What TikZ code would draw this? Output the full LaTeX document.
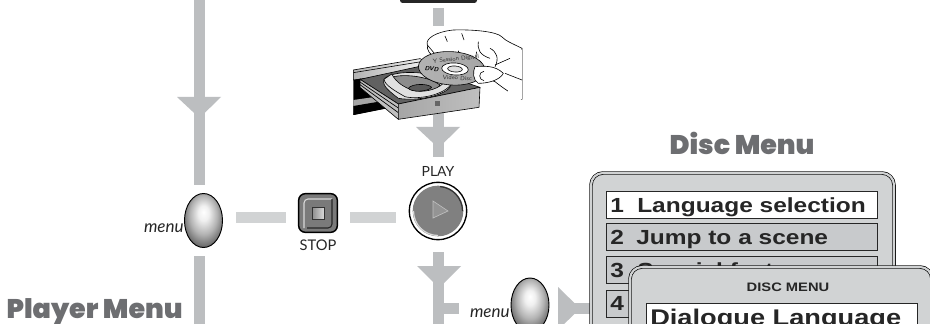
\documentclass[tikz,border=0pt]{standalone}
\usepackage{fontspec}
\usetikzlibrary{shapes.geometric,calc}
\setmainfont{Lato}
\newfontfamily\titlefont[BoldFont=Poppins Black]{Poppins}
\newfontfamily\rowfont[FakeStretch=1.2]{Liberation Sans}
\definecolor{barg}{HTML}{BCBEC0}
\definecolor{hbarg}{HTML}{D1D3D4}
\definecolor{wing}{HTML}{D1D3D4}
\definecolor{rowg}{HTML}{C8CACC}
\definecolor{titleg}{HTML}{6D6E71}
\pgfdeclareradialshading{eggsh}{\pgfpoint{0pt}{8pt}}{color(0pt)=(white);color(7pt)=(black!6);color(18pt)=(black!30);color(30pt)=(black!65);color(50pt)=(black!65)}
\tikzset{
 flow/.style={fill=barg,draw=none},
 hflow/.style={fill=hbarg,draw=none},
 egg/.style={draw=black,line width=.7pt,ellipse,minimum width=28.5pt,minimum height=40.5pt,inner sep=0pt,shading=eggsh},
 lab/.style={inner sep=0pt,text=black!85},
 win/.style={draw=black,line width=.5pt,rounded corners=9pt,double=wing,double distance=1.6pt,fill=wing},
 rowbox/.style={draw=black!85,line width=.7pt,fill=rowg,minimum width=203pt,minimum height=20pt,inner sep=0pt,text=black!85,anchor=north west},
 rowtext/.style={inner sep=0pt,anchor=base west,text=black!85,font=\rowfont\bfseries\fontsize{15.3}{17}\selectfont},
 wintitle/.style={inner sep=0pt,font=\titlefont\bfseries\fontsize{20.2}{22}\selectfont,text=titleg},
 art/.style={draw=black,line width=.45pt,line join=round},
}
\begin{document}
\begin{tikzpicture}[x=.75pt,y=-.75pt]
\useasboundingbox (0,0) rectangle (930,324);
\fill[white] (0,0) rectangle (930,324);
\clip (0,0) rectangle (930,324);
% left vertical
\fill[flow] (194,0) rectangle (205,185);
\fill[flow] (177,97) -- (221,97) -- (199.5,118) -- cycle;
\fill[flow] (194,256) rectangle (205,324);
% horizontals
\fill[hflow] (236,212) rectangle (286,223);
\fill[hflow] (350,212) rectangle (396,223);
% top centre
\fill[black!85,rounded corners=2pt] (400,-8) rectangle (477,3);
\fill[flow] (433,8) rectangle (444,26);
% disc art
\fill[flow] (433,105) rectangle (444,157);
\fill[flow] (416,127) -- (460,127) -- (438.5,148) -- cycle;
\begin{scope}[shift={(340,0)},x=.25pt,y=-.25pt]
 % player body
 \draw[art,left color=black!30,right color=white] (40,210) -- (240,176) -- (300,205) -- (40,240) -- cycle;
 \draw[art] (40,218) -- (250,184);
 \fill[black] (40,240) -- (62,236) -- (170,320) -- (140,325) -- (40,345) -- cycle;
 \fill[black!35] (40,300) -- (110,290) -- (135,322) -- (40,340) -- cycle;
 \fill[black] (40,318) -- (135,302) -- (140,325) -- (40,345) -- cycle;
 % tray
 \draw[art,fill=black!62] (60,238) -- (235,200) -- (420,262) -- (175,312) -- cycle;
 \draw[art,fill=black!12] (132,238) .. controls (150,212) and (270,205) .. (335,250) .. controls (330,285) and (235,305) .. (175,295) .. controls (150,275) and (125,258) .. (132,238) -- cycle;
 \draw[art,fill=black!45] (150,235) .. controls (165,222) and (255,222) .. (300,255) .. controls (290,275) and (235,285) .. (195,280) .. controls (175,265) and (150,250) .. (150,235) -- cycle;
 \draw[art,fill=black!12] (155,222) .. controls (170,250) and (195,262) .. (215,270) .. controls (245,280) and (290,270) .. (310,250) -- (335,250) .. controls (315,285) and (235,300) .. (195,290) .. controls (160,270) and (135,255) .. (132,238) -- cycle;
 \draw[art,fill=black!65] (205,265) .. controls (215,250) and (265,250) .. (275,262) .. controls (265,275) and (215,278) .. (205,265) -- cycle;
 \draw[art,fill=black!25] (60,238) -- (175,312) -- (175,358) -- (60,262) -- cycle;
 \draw[black,line width=.5pt] (60,246) -- (175,324) (60,254) -- (175,338);
 \draw[art,left color=black!35,middle color=white,right color=black!25] (175,312) -- (420,262) -- (417,322) -- (175,358) -- cycle;
 \fill[black!60] (285,302) rectangle (300,318);
 % hand (back)
 \draw[art,fill=white] (300,180) -- (262,135) .. controls (255,115) and (290,95) .. (340,90) .. controls (400,88) and (470,95) .. (485,110) .. controls (495,122) and (520,132) .. (546,145) -- (546,298) .. controls (520,285) and (490,265) .. (465,245) -- (400,220) -- cycle;
 \fill[white] (505,150) rectangle (546,297);
 \draw[art] (262,135) .. controls (260,150) and (270,165) .. (285,170);
 \draw[art] (315,108) -- (322,125) (365,100) -- (372,120) (300,160) -- (305,170) (355,152) -- (357,163) (410,155) -- (407,170);
 \draw[art] (415,125) .. controls (412,150) and (420,165) .. (450,175);
 \draw[art] (450,145) .. controls (470,155) and (478,175) .. (465,200);
 \draw[art] (510,175) -- (465,195);
 \draw[art] (495,220) -- (546,240);
 % disc
 \draw[art,left color=black!30,middle color=white,right color=black!35,rotate around={-4:(335,205)}] (335,205) ellipse (100 and 50);
 \draw[art,fill=white,rotate around={-4:(345,207)}] (345,207) ellipse (40 and 18);
 \draw[art,fill=black!12,rotate around={-4:(345,207)}] (345,207) ellipse (22 and 9);
 \node[inner sep=0pt,font=\sffamily\bfseries\itshape\fontsize{4.5}{5}\selectfont,rotate=-4] (dvdlogo) at (275,207) {DVD};
 \node[inner sep=0pt,font=\sffamily\fontsize{4.6}{5}\selectfont,rotate=6,text=black!80] (disctop) at (348,178) {Y Session Digital};
 \node[inner sep=0pt,font=\sffamily\fontsize{4.6}{5}\selectfont,rotate=-4,text=black!80] (discbot) at (352,234) {Video Disc};
 % thumb
 \draw[art,fill=white] (405,200) .. controls (430,198) and (465,195) .. (490,220) .. controls (480,240) and (445,250) .. (415,250) .. controls (398,240) and (398,215) .. (405,200) -- cycle;
 \draw[art] (432,214) .. controls (415,215) and (415,240) .. (432,242);
\end{scope}
% play
\node[draw=black,line width=1pt,circle,minimum size=43pt,inner sep=0pt,fill=white] (play) at (438,211) {};
\node[circle,minimum size=38pt,inner sep=0pt,fill=black!50] (playin) at (438,211) {};
\draw[black!15,line width=.9pt] ([shift={(180:24.5)}]438,211) arc[start angle=180,end angle=90,radius=24.5];
\draw[black!80,line width=.9pt] ([shift={(0:24.5)}]438,211) arc[start angle=0,end angle=-85,radius=24.5];
\draw[black!25,fill=black!42,line width=.5pt] (433,201) -- (448,211) -- (433,218) -- cycle;
\node[lab,font=\fontsize{10.5}{12}\selectfont] (playl) at (438,171) {PLAY};
% stop
\node[draw=black,line width=1.1pt,rounded corners=5pt,minimum size=29pt,inner sep=0pt,fill=black!52] (stopb) at (318,213) {};
\draw[black!15,line width=.8pt,rounded corners=3pt] (304,228) -- (304,199) -- (332,199);
\draw[black!85,line width=.8pt,rounded corners=3pt] (332,199) -- (332,228) -- (307,228);
\node[draw=black!80,line width=.5pt,minimum size=9pt,inner sep=0pt,left color=black!45,right color=black!15] (stopi) at (318,213) {};
\node[lab,font=\fontsize{11}{12}\selectfont] (stopl) at (318,245) {STOP};
% menu left
\node[egg] (egga) at (203.5,220.5) {};
\node[lab,anchor=base east,font=\itshape\fontsize{12.8}{14}\selectfont] (menua) at (184,232) {menu};
% lower centre
\fill[flow] (433,252) rectangle (444,324);
\fill[flow] (417,266) -- (461,266) -- (439,288) -- cycle;
\fill[flow] (444,303) rectangle (459,314);
% menu right
\node[egg] (eggb) at (530,305) {};
\node[lab,anchor=base east,font=\itshape\fontsize{12.8}{14}\selectfont] (menub) at (510,317) {menu};
\fill[flow] (558,303) rectangle (593,314);
\fill[flow] (558,287) -- (580,308.5) -- (558,330) -- cycle;
% titles
\node[wintitle] (discT) at (742,143) {\textbf{Disc Menu}};
\node[wintitle,anchor=base east] (playT) at (183,318) {\textbf{Player Menu}};
% disc menu window
\draw[win] (591,173) rectangle (894,380);
\node[rowbox,fill=white] (r1) at (606,191) {};
\node[rowbox] (r2) at (606,223) {};
\node[rowbox] (r3) at (606,256) {};
\node[rowbox] (r4) at (606,290) {};
\node[rowtext] at (610,212) {1};
\node[rowtext] at (637,212) {Language selection};
\node[rowtext] at (610,244) {2};
\node[rowtext] at (636,244) {Jump to a scene};
\node[rowtext] at (610,277) {3};
\node[rowtext] at (637,277) {Special features};
\node[rowtext] at (610,310) {4};
% second window
\draw[win] (630,267) rectangle (932,460);
\node[inner sep=0pt,text=black!85,font=\rowfont\bfseries\fontsize{9.2}{10}\selectfont] (dm) at (788,287) {DISC MENU};
\node[rowbox,fill=white] (d1) at (646,303) {};
\node[rowtext,font=\rowfont\bfseries\fontsize{17}{18}\selectfont] at (650,325) {Dialogue Language};
\end{tikzpicture}
\end{document}
